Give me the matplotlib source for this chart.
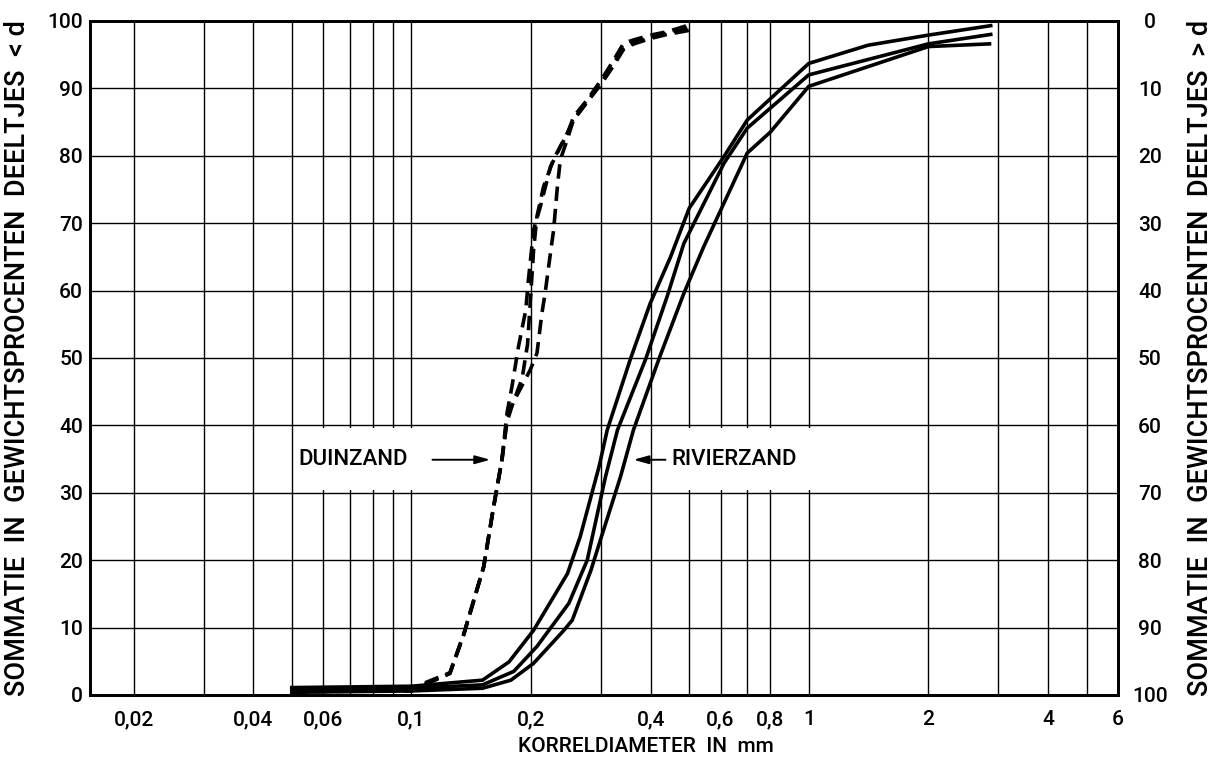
import matplotlib.pyplot as plt

plt.rcParams['font.family'] = ['Roboto', 'DejaVu Sans']
plt.rcParams['font.weight'] = 'medium'

# korreldiameter in mm en sommatie in gewichtsprocenten (< d)
# rivierzand, drie monsters
river_a_d = [0.05, 0.10, 0.151, 0.176, 0.203, 0.247, 0.266, 0.297, 0.311, 0.356,
             0.399, 0.449, 0.50, 0.612, 0.70, 1.0, 1.41, 2.0, 2.87]
river_a_p = [1.1, 1.3, 2.2, 4.9, 9.6, 18.0, 23.5, 34.0, 39.3, 49.9,
             58.1, 65.0, 72.2, 79.9, 85.3, 93.7, 96.4, 97.9, 99.3]

river_b_d = [0.05, 0.10, 0.151, 0.181, 0.207, 0.249, 0.277, 0.308, 0.330, 0.389,
             0.440, 0.485, 0.612, 0.70, 1.0, 2.0, 2.87]
river_b_p = [0.8, 1.0, 1.5, 3.5, 7.2, 13.6, 20.0, 32.4, 39.3, 49.9,
             59.1, 67.0, 78.9, 84.1, 92.0, 96.6, 98.0]

river_c_d = [0.05, 0.10, 0.151, 0.178, 0.203, 0.242, 0.254, 0.283, 0.299, 0.336,
             0.362, 0.42, 0.485, 0.544, 0.70, 0.80, 1.0, 2.0, 2.85]
river_c_p = [0.4, 0.6, 1.0, 2.2, 4.7, 9.6, 11.1, 18.5, 23.0, 32.4,
             39.3, 49.9, 59.6, 66.5, 80.4, 83.5, 90.3, 96.2, 96.6]

# duinzand, drie monsters
dune_a_d = [0.05, 0.10, 0.105, 0.125, 0.1355, 0.152, 0.161, 0.169, 0.174, 0.179,
            0.186, 0.194, 0.197, 0.201, 0.203, 0.211, 0.224, 0.237, 0.247, 0.256,
            0.277, 0.30, 0.323, 0.342, 0.363, 0.40, 0.44, 0.50]
dune_a_p = [0.9, 1.0, 1.5, 3.3, 9.1, 19.0, 27.9, 34.9, 41.8, 45.7,
            51.7, 57.1, 61.6, 66.5, 69.0, 72.4, 78.4, 81.3, 83.3, 85.8,
            88.3, 91.2, 94.2, 96.7, 97.2, 97.9, 98.4, 99.4]

dune_b_d = [0.05, 0.10, 0.105, 0.125, 0.1355, 0.152, 0.161, 0.169, 0.174, 0.182,
            0.19, 0.196, 0.200, 0.203, 0.207, 0.215, 0.228, 0.245, 0.256, 0.277,
            0.30, 0.323, 0.342, 0.363, 0.40, 0.44, 0.50]
dune_b_p = [0.7, 0.8, 1.3, 3.2, 9.0, 19.0, 27.9, 34.9, 41.0, 44.0,
            47.0, 52.0, 60.0, 66.0, 71.0, 75.4, 79.5, 83.0, 85.3, 88.0,
            90.8, 93.8, 96.0, 96.8, 97.6, 98.2, 99.0]

dune_c_d = [0.05, 0.10, 0.105, 0.125, 0.1355, 0.152, 0.161, 0.169, 0.174, 0.18,
            0.199, 0.207, 0.213, 0.217, 0.222, 0.228, 0.233, 0.237, 0.247, 0.256,
            0.277, 0.30, 0.323, 0.342, 0.363, 0.40, 0.44, 0.50]
dune_c_p = [0.5, 0.6, 1.2, 3.2, 9.0, 19.0, 27.9, 34.9, 40.5, 43.3,
            48.2, 50.7, 56.6, 59.6, 64.0, 69.0, 75.4, 79.4, 82.5, 85.4,
            88.0, 90.6, 93.4, 95.8, 96.6, 97.4, 98.0, 98.6]

# rasterlijnen en labels van de x-as
grid_x = [0.02, 0.03, 0.04, 0.05, 0.06, 0.07, 0.08, 0.09, 0.1,
          0.2, 0.3, 0.4, 0.5, 0.6, 0.7, 0.8, 1, 2, 3, 4, 5]
tick_x = [0.02, 0.04, 0.06, 0.1, 0.2, 0.4, 0.6, 0.8, 1, 2, 4, 6]
tick_x_labels = ['0,02', '0,04', '0,06', '0,1', '0,2', '0,4', '0,6', '0,8', '1', '2', '4', '6']
tick_y = list(range(0, 101, 10))


fig = plt.figure(figsize=(12.16, 7.76), dpi=100)
ax = fig.add_axes([0.074, 0.1044, 0.8454, 0.8686])

ax.set_xscale('log')
ax.set_xlim(0.01553, 6)
ax.set_ylim(0, 100)

# raster
ax.set_xticks(grid_x, minor=True)
ax.set_xticks(tick_x, tick_x_labels)
ax.set_yticks(tick_y)
ax.grid(True, which='both', axis='x', color='black', lw=1.0)
ax.grid(True, which='major', axis='y', color='black', lw=1.0)
ax.tick_params(axis='both', which='both', length=0)
ax.tick_params(axis='x', labelsize=15, pad=11)
ax.tick_params(axis='y', labelsize=15, pad=5)
for s in ax.spines.values():
    s.set_linewidth(2)

# krommen
for d, p in [(river_a_d, river_a_p), (river_b_d, river_b_p), (river_c_d, river_c_p)]:
    ax.plot(d, p, color='black', lw=2.6, solid_joinstyle='miter', zorder=3)
for d, p in [(dune_a_d, dune_a_p), (dune_b_d, dune_b_p), (dune_c_d, dune_c_p)]:
    ax.plot(d, p, color='black', lw=2.6, dashes=(4, 2.2), zorder=3)

# witte vlakken achter de teksten (raster onderbroken tussen 30 en 40)
ax.fill_between([0.0515, 0.108], 30.4, 39.6, color='white', lw=0, zorder=2)
ax.fill_between([0.44, 1.12], 30.4, 39.6, color='white', lw=0, zorder=2)

arrow = dict(arrowstyle='-|>,head_length=0.9,head_width=0.25',
             color='black', lw=1.4, shrinkA=0, shrinkB=0)
ax.text(0.052, 34.9, 'DUINZAND', fontsize=16, ha='left', va='center', zorder=4)
ax.annotate('', xy=(0.158, 34.9), xytext=(0.113, 34.9), arrowprops=arrow, zorder=4)
ax.text(0.452, 34.9, 'RIVIERZAND', fontsize=16, ha='left', va='center', zorder=4)
ax.annotate('', xy=(0.362, 34.9), xytext=(0.436, 34.9), arrowprops=arrow, zorder=4)

# rechter as: percentage > d
ax2 = ax.twinx()
ax2.set_ylim(100, 0)
ax2.set_yticks(tick_y)
ax2.tick_params(axis='y', length=0, labelsize=15, pad=23)
for lab in ax2.get_yticklabels():
    lab.set_horizontalalignment('center')
for s in ax2.spines.values():
    s.set_linewidth(2)

fig.text(0.0148, 0.539, 'SOMMATIE  IN  GEWICHTSPROCENTEN  DEELTJES  < d',
         rotation=90, ha='center', va='center', fontsize=19.5)
fig.text(0.987, 0.539, 'SOMMATIE  IN  GEWICHTSPROCENTEN  DEELTJES  > d',
         rotation=90, ha='center', va='center', fontsize=19.5)
fig.text(0.531, 0.038, 'KORRELDIAMETER  IN  mm', ha='center', va='center', fontsize=15)

fig.savefig('out.png', dpi=100)
